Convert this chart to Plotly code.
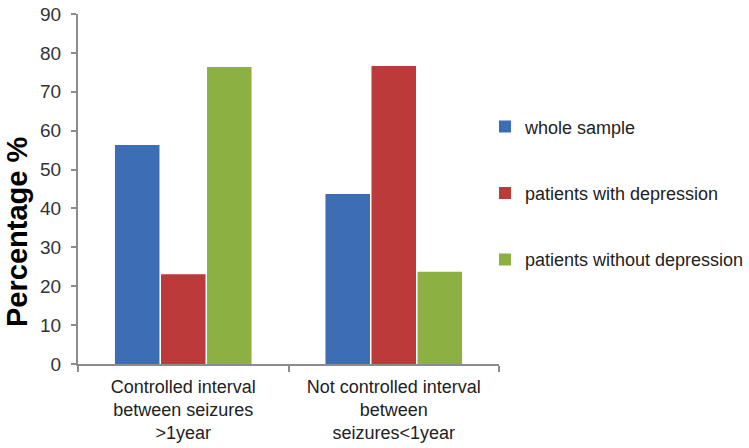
import plotly.graph_objects as go

categories = ["Controlled interval<br>between seizures<br>>1year",
              "Not controlled interval<br>between<br>seizures<1year"]
series_names = ["whole sample", "patients with depression", "patients without depression"]
whole_sample = [56.3, 43.7]
with_depression = [23.1, 76.6]
without_depression = [76.4, 23.7]
colors = ["#3D6DB5", "#BC3A3A", "#8DB043"]
y_ticks = [0, 10, 20, 30, 40, 50, 60, 70, 80, 90]

fig = go.Figure()
for i, (name, vals) in enumerate(zip(series_names, [whole_sample, with_depression, without_depression])):
    fig.add_trace(go.Bar(x=categories, y=vals, name=name, marker_color=colors[i],
                         marker_line_width=0, legendgroup=str(i)))

fig.update_layout(
    width=749, height=448,
    margin=dict(l=78, r=250, t=14, b=84, autoexpand=False),
    paper_bgcolor="white", plot_bgcolor="white",
    barmode="group", bargap=0.344, bargroupgap=0.033,
    font=dict(family="Liberation Sans, Arial, sans-serif", color="#222222"),
    showlegend=True,
    legend=dict(xref="container", yref="container", x=0.6475, y=0.758,
                xanchor="left", yanchor="top", tracegroupgap=40,
                traceorder="grouped", bgcolor="rgba(0,0,0,0)",
                font=dict(size=18, color="#222222")),
    xaxis=dict(showline=True, linecolor="#8c8c8c", linewidth=2,
               ticks="outside", tickson="boundaries", ticklen=6, tickcolor="#8c8c8c",
               tickwidth=2, ticklabelstandoff=5,
               tickfont=dict(size=18, color="#222222"), showgrid=False),
    yaxis=dict(range=[0, 90], tickvals=y_ticks, showline=True, linecolor="#8c8c8c",
               linewidth=2, ticks="outside", ticklen=5, tickcolor="#8c8c8c", tickwidth=2,
               ticklabelstandoff=6,
               tickfont=dict(size=19, color="#333333"), showgrid=False, zeroline=False),
    annotations=[dict(text="<b>Percentage %</b>", textangle=-90, xref="paper", yref="paper",
                      x=-0.145, y=0.377, xanchor="center", yanchor="middle",
                      showarrow=False, font=dict(size=29, color="#000000"))],
)

fig.write_html("out.html", config={"displayModeBar": False},
               post_script="document.body.style.margin='0px';")
